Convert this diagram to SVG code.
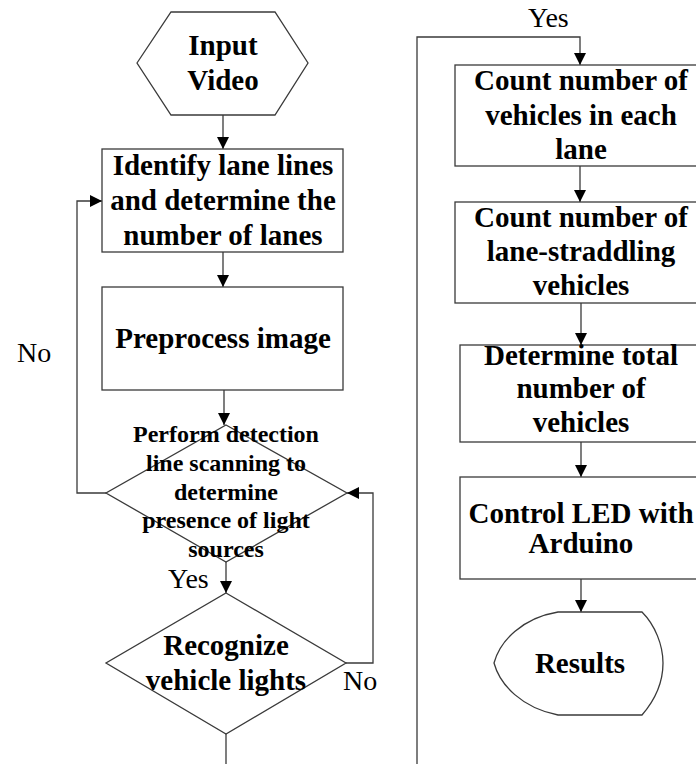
<svg xmlns="http://www.w3.org/2000/svg" width="696" height="764" viewBox="0 0 696 764">
<defs>
<marker id="ah" viewBox="0 0 12 12" refX="12" refY="6" markerWidth="12" markerHeight="12" markerUnits="userSpaceOnUse" orient="auto">
<path d="M0,0 L12,6 L0,12 Z" fill="#000"/>
</marker>
<style>
.s{fill:#fff;stroke:#3a3a3a;stroke-width:1.3}
.c{fill:none;stroke:#3a3a3a;stroke-width:1.3}
.b{font-family:"Liberation Serif","Times New Roman",serif;font-weight:bold;font-size:29px;fill:#000;text-anchor:middle}
.d{font-family:"Liberation Serif","Times New Roman",serif;font-weight:bold;font-size:24px;fill:#000;text-anchor:middle}
.l{font-family:"Liberation Serif","Times New Roman",serif;font-size:28px;fill:#000}
</style>
</defs>
<rect width="696" height="764" fill="#fff"/>
<g id="connectors">
<path class="c" d="M223,115 V149" marker-end="url(#ah)"/>
<path class="c" d="M223,252 V287" marker-end="url(#ah)"/>
<path class="c" d="M224,390 V425" marker-end="url(#ah)"/>
<path class="c" d="M106,493 H77 V201 H102" marker-end="url(#ah)"/>
<path class="c" d="M226,562 V593" marker-end="url(#ah)"/>
<path class="c" d="M346,663 H373 V493 H347" marker-end="url(#ah)"/>
<path class="c" d="M226,734 V764"/>
<path class="c" d="M417,764 V37 H580 V65" marker-end="url(#ah)"/>
<path class="c" d="M580,166 V202" marker-end="url(#ah)"/>
<path class="c" d="M581,303 V345" marker-end="url(#ah)"/>
<path class="c" d="M581,442 V477" marker-end="url(#ah)"/>
<path class="c" d="M581,579 V612" marker-end="url(#ah)"/>
<text class="l" x="17" y="362">No</text>
<text class="l" x="168" y="588">Yes</text>
<text class="l" x="343" y="690">No</text>
<text class="l" x="528" y="27">Yes</text>
</g>
<g id="input">
<polygon class="s" points="137,63 171,12 275,12 308,63 275,115 171,115"/>
<text class="b" x="223" y="55">Input</text>
<text class="b" x="223" y="90">Video</text>
</g>
<g id="identify">
<rect class="s" x="102" y="149" width="241" height="103"/>
<text class="b" x="223" y="175">Identify lane lines</text>
<text class="b" x="223" y="210">and determine the</text>
<text class="b" x="223" y="245">number of lanes</text>
</g>
<g id="preprocess">
<rect class="s" x="102" y="287" width="241" height="103"/>
<text class="b" x="223" y="348">Preprocess image</text>
</g>
<g id="scan">
<polygon class="s" points="226,425 347,493 226,562 106,493"/>
<text class="d" x="226" y="442">Perform detection</text>
<text class="d" x="226" y="471">line scanning to</text>
<text class="d" x="226" y="500">determine</text>
<text class="d" x="226" y="528">presence of light</text>
<text class="d" x="226" y="557">sources</text>
</g>
<g id="recognize">
<polygon class="s" points="226,593 346,663 226,734 106,663"/>
<text class="b" x="226" y="655">Recognize</text>
<text class="b" x="226" y="690">vehicle lights</text>
</g>
<g id="count-lane">
<rect class="s" x="455" y="65" width="260" height="101"/>
<text class="b" x="581" y="90">Count number of</text>
<text class="b" x="581" y="125">vehicles in each</text>
<text class="b" x="581" y="159">lane</text>
</g>
<g id="count-straddle">
<rect class="s" x="455" y="202" width="260" height="101"/>
<text class="b" x="581" y="227">Count number of</text>
<text class="b" x="581" y="261">lane-straddling</text>
<text class="b" x="581" y="295">vehicles</text>
</g>
<g id="total">
<rect class="s" x="460" y="345" width="260" height="97"/>
<text class="b" x="581" y="365">Determine total</text>
<text class="b" x="581" y="398">number of</text>
<text class="b" x="581" y="432">vehicles</text>
</g>
<g id="led">
<rect class="s" x="460" y="477" width="260" height="102"/>
<text class="b" x="581" y="523">Control LED with</text>
<text class="b" x="581" y="553">Arduino</text>
</g>
<g id="results">
<path class="s" d="M558,612 H642 C655,625 663,645 663,663 C663,682 655,700 642,715 H558 C522,708 500,685 494,663 C500,641 522,618 558,612 Z"/>
<text class="b" x="580" y="673">Results</text>
</g>
</svg>
